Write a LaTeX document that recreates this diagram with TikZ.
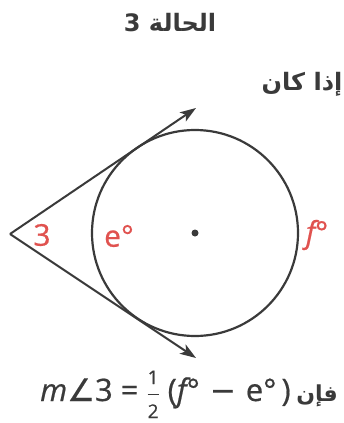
\documentclass[tikz,border=0pt]{standalone}
\usepackage{amsmath}
\usepackage{fontspec}
\setmainfont{Open Sans}
\newfontfamily\labelfont[FakeBold=0.6]{Open Sans}
\newfontfamily\arabicfont[Script=Arabic]{DejaVu Sans}
\newfontfamily\symbfont[FakeBold=0.4]{DejaVu Sans}
\TeXXeTstate=1
\usetikzlibrary{arrows.meta}

\definecolor{inkgray}{HTML}{3A3A3A}
\definecolor{anglered}{HTML}{E0524F}

\newcommand{\fracdigit}[1]{\text{\labelfont\fontsize{19}{19}\selectfont #1}}

\tikzset{
  tangentline/.style={line width=2pt, draw=inkgray, -{Stealth[length=16pt,width=11pt,inset=4pt]}},
  arclabel/.style={text=anglered, inner sep=0pt, font=\labelfont\fontsize{30}{34}\selectfont},
  heading/.style={text=inkgray, inner sep=0pt, font=\arabicfont\bfseries\fontsize{24}{28}\selectfont},
}

\begin{document}
\begin{tikzpicture}[x=1pt,y=-1pt]

            \useasboundingbox (0,0) rectangle (343,423);
            % the circle and its centre
            \coordinate (O) at (195,233);
            \draw[line width=2.2pt, inkgray] (O) circle (103pt);
            \fill[inkgray] (O) circle (3.5pt);
            % two tangents from the outside point
            \coordinate (V) at (10,234);
            \coordinate (T1) at (196,108);
            \coordinate (T2) at (196,358);
            \draw[tangentline] (V) -- (T1);
            \draw[tangentline] (V) -- (T2);
            % arc and angle labels
            \node[arclabel] (angle3) at (42,235) {3};
            \node[arclabel] (arce) at (119,236) {e°};
            \node[arclabel] (arcf) at (317,235) {\itshape f°};
            % texts
            \node[heading] (title) at (170,23) {\beginR الحالة 3\endR};
            \node[heading] (given) at (302,84) {\beginR إذا كان\endR};
            \node[heading, font=\arabicfont\bfseries\fontsize{22}{26}\selectfont, anchor=base east] (then) at (338,401) {\beginR فإن\endR};
            \node[text=inkgray, inner sep=0pt, anchor=base west, font=\labelfont\fontsize{31}{34}\selectfont] (formula) at (40,401)
              {{\itshape m}{\symbfont ∠}3\hspace{8pt}=\hspace{8pt}$\dfrac{\fracdigit{1}}{\fracdigit{2}}$\hspace{8pt}({\itshape f}°\hspace{10pt}{\symbfont −}\hspace{10pt}e°\hspace{5pt})};
        \end{tikzpicture}
\end{document}
